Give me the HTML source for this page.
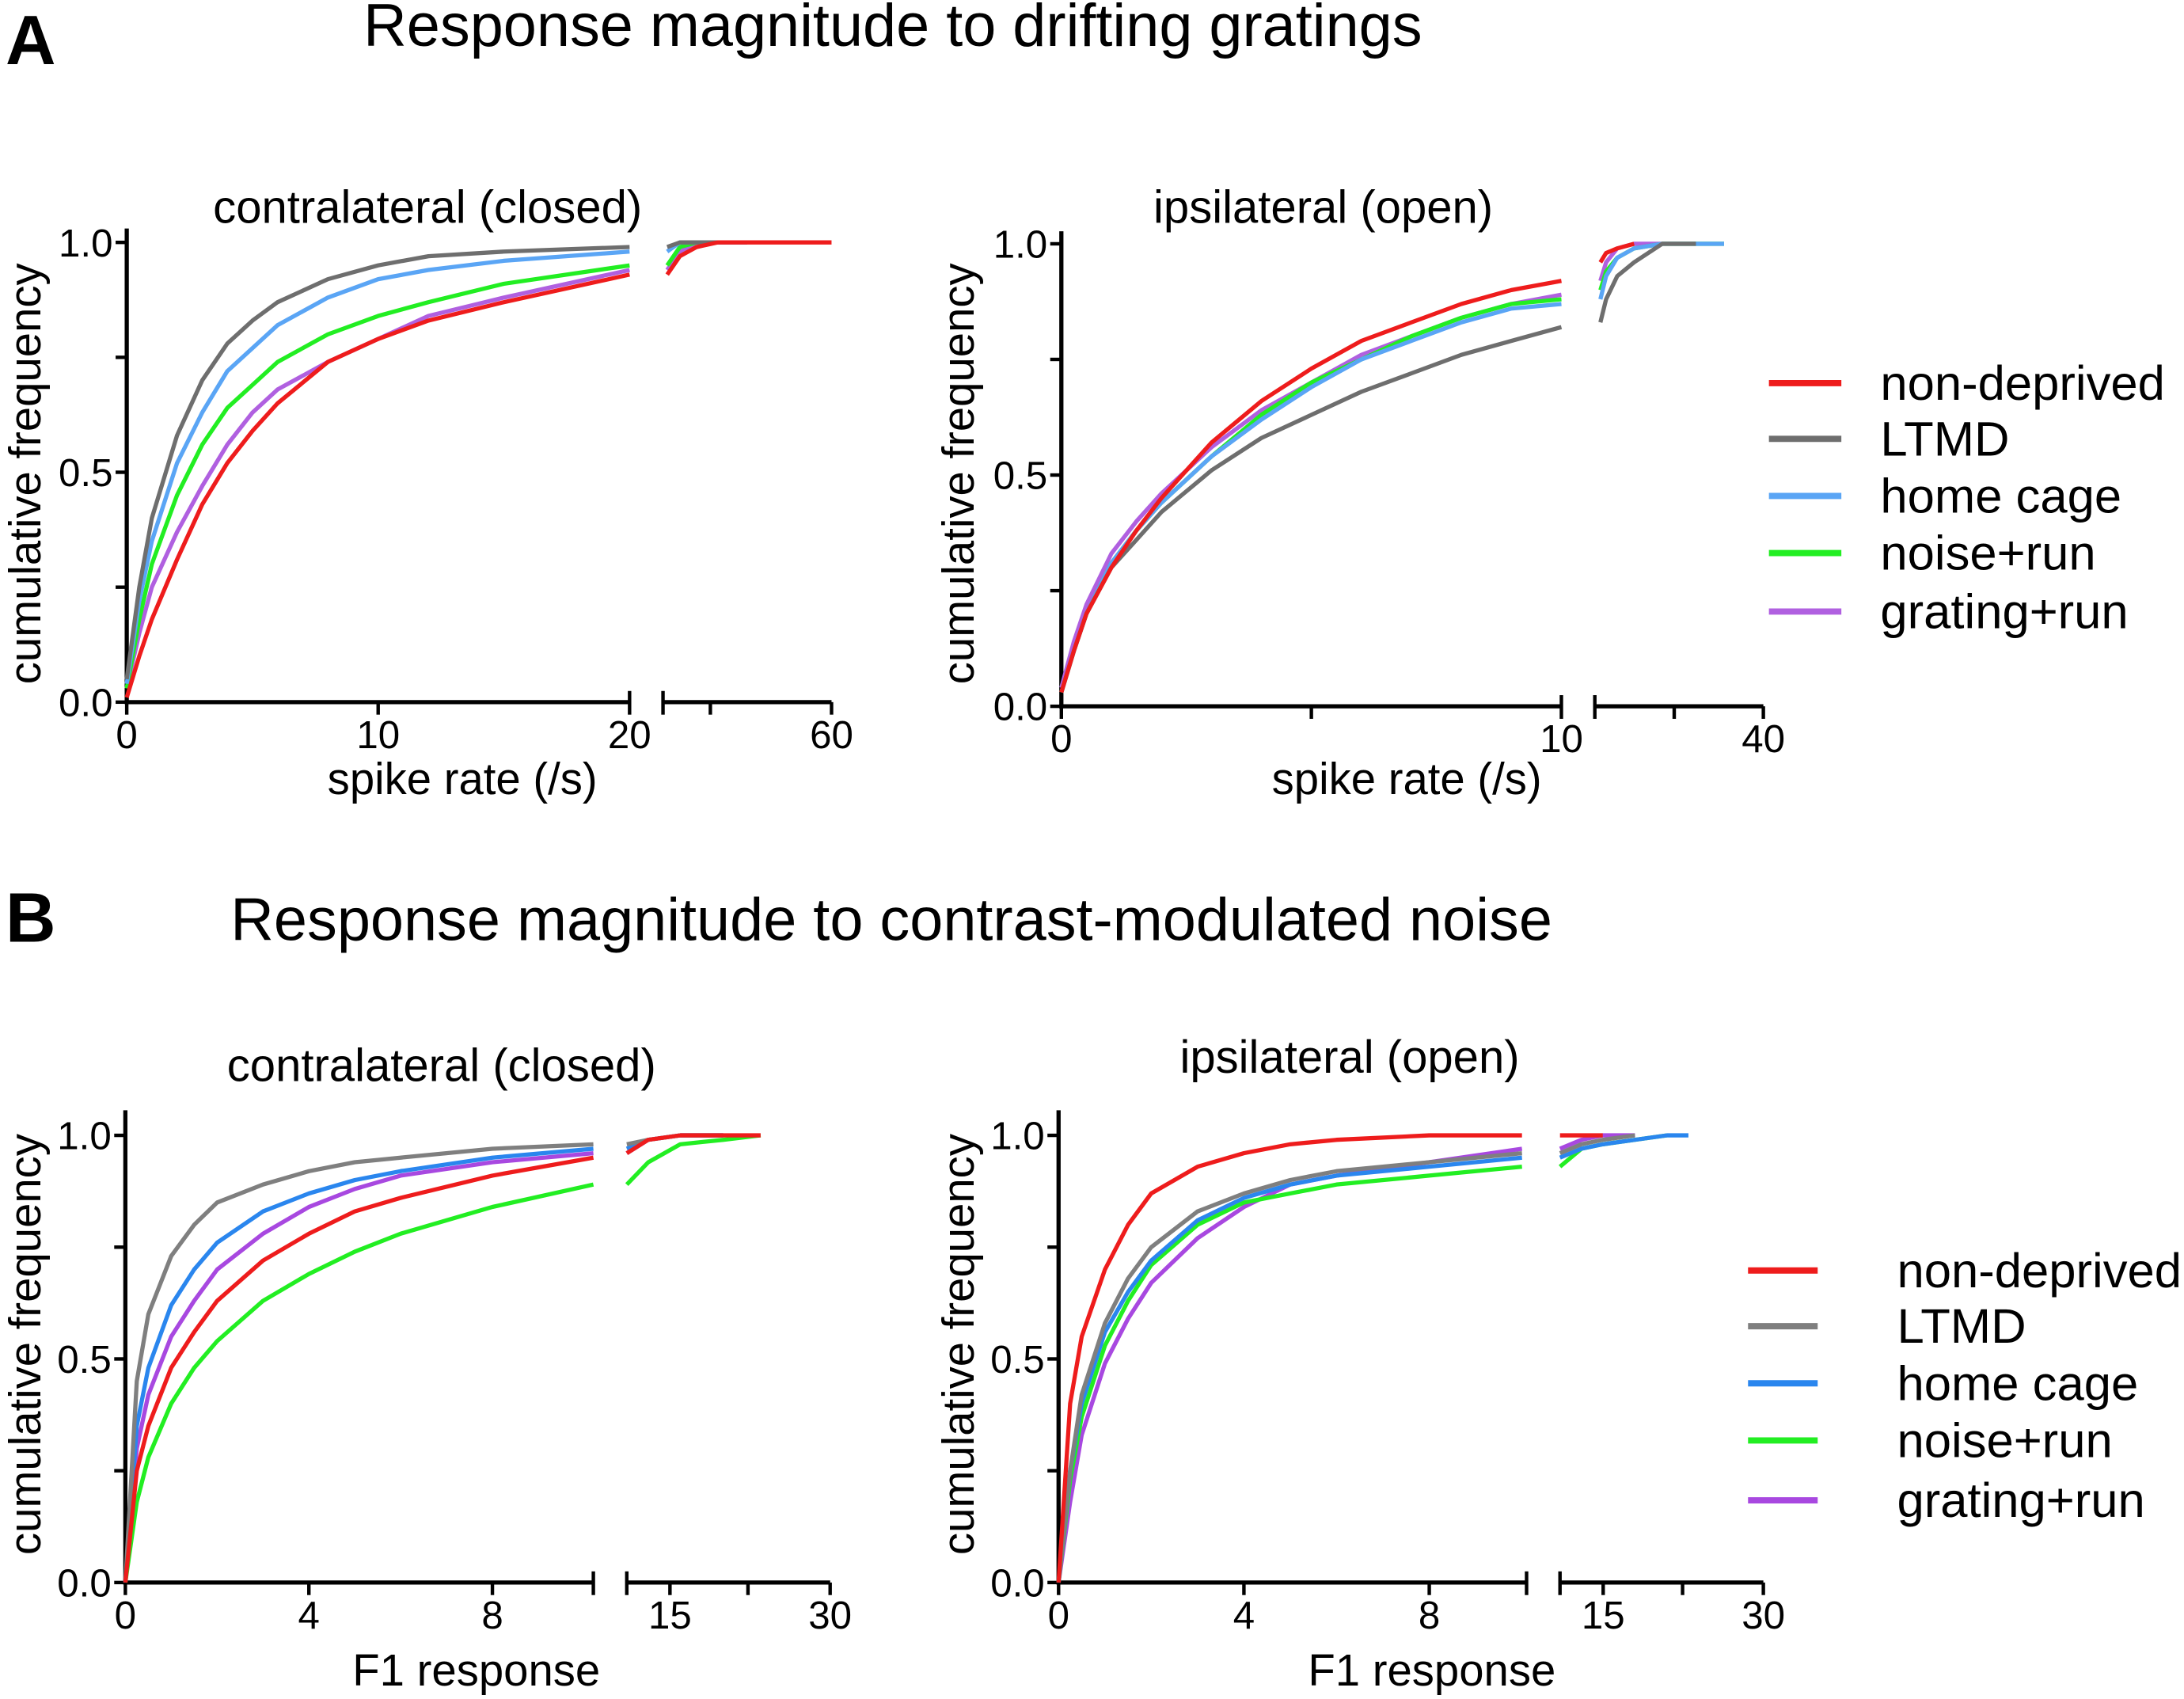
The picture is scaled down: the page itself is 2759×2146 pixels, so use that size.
<!DOCTYPE html>
<html><head><meta charset="utf-8"><style>
html,body{margin:0;padding:0;background:#fff;}
svg{display:block;font-family:"Liberation Sans",Arial,sans-serif;}
</style></head><body>
<svg id="fig" width="2759" height="2146" viewBox="0 0 1568 1219.6" xmlns="http://www.w3.org/2000/svg">
<text x="4" y="46" font-size="50" font-weight="bold">A</text>
<text x="641" y="33" font-size="43" text-anchor="middle">Response magnitude to drifting gratings</text>
<text x="4" y="676" font-size="50" font-weight="bold">B</text>
<text x="640" y="675" font-size="43" text-anchor="middle">Response magnitude to contrast-modulated noise</text>
</svg>
<script>
// ---- data ----
const seriesNames = ["non-deprived","LTMD","home cage","noise+run","grating+run"];
// Panel A left (spike rate, contralateral)
const aLX1 = [0,0.5,1,2,3,4,5,6,8,10,12,15,20];
const aLRed1 = [0.01,0.10,0.18,0.31,0.43,0.52,0.59,0.65,0.74,0.79,0.83,0.87,0.93];
const aLGray1 = [0.05,0.25,0.40,0.58,0.70,0.78,0.83,0.87,0.92,0.95,0.97,0.98,0.99];
const aLBlue1 = [0.04,0.22,0.35,0.52,0.63,0.72,0.77,0.82,0.88,0.92,0.94,0.96,0.98];
const aLGreen1 = [0.03,0.18,0.30,0.45,0.56,0.64,0.69,0.74,0.80,0.84,0.87,0.91,0.95];
const aLPurple1 = [0.03,0.15,0.25,0.37,0.47,0.56,0.63,0.68,0.74,0.79,0.84,0.88,0.94];
const aLX2 = [21,24,28,33,40,60];
const aLRed2 = [0.93,0.97,0.99,1,1,1];
const aLGray2 = [0.99,1,1,1,null,null];
const aLBlue2 = [0.98,1,1,1,1,null];
const aLGreen2 = [0.95,0.99,1,1,null,null];
const aLPurple2 = [0.94,0.98,1,1,1,null];
// Panel A right (spike rate, ipsilateral)
const aRX1 = [0,0.25,0.5,1,1.5,2,3,4,5,6,7,8,9,10];
const aRRed1 = [0.03,0.12,0.20,0.30,0.38,0.45,0.57,0.66,0.73,0.79,0.83,0.87,0.90,0.92];
const aRGray1 = [0.03,0.12,0.20,0.30,0.36,0.42,0.51,0.58,0.63,0.68,0.72,0.76,0.79,0.82];
const aRBlue1 = [0.03,0.12,0.20,0.31,0.38,0.44,0.54,0.62,0.69,0.75,0.79,0.83,0.86,0.87];
const aRGreen1 = [0.03,0.12,0.20,0.31,0.38,0.44,0.54,0.63,0.70,0.75,0.80,0.84,0.87,0.88];
const aRPurple1 = [0.04,0.14,0.22,0.33,0.40,0.46,0.56,0.64,0.70,0.76,0.80,0.84,0.87,0.89];
const aRX2 = [11,12,14,17,22,28,33];
const aRRed2 = [0.96,0.98,0.99,1,null,null,null];
const aRGray2 = [0.83,0.88,0.93,0.96,1,1,null];
const aRBlue2 = [0.88,0.93,0.97,0.99,1,1,1];
const aRGreen2 = [0.90,0.94,0.97,0.99,1,1,1];
const aRPurple2 = [0.92,0.96,0.99,1,1,null,null];
// Panel B left (F1, contralateral)
const bLX1 = [0,0.25,0.5,1,1.5,2,3,4,5,6,8,10.2];
const bLRed1 = [0,0.25,0.35,0.48,0.56,0.63,0.72,0.78,0.83,0.86,0.91,0.95];
const bLGray1 = [0,0.45,0.60,0.73,0.80,0.85,0.89,0.92,0.94,0.95,0.97,0.98];
const bLBlue1 = [0,0.35,0.48,0.62,0.70,0.76,0.83,0.87,0.90,0.92,0.95,0.97];
const bLGreen1 = [0,0.18,0.28,0.40,0.48,0.54,0.63,0.69,0.74,0.78,0.84,0.89];
const bLPurple1 = [0,0.30,0.42,0.55,0.63,0.70,0.78,0.84,0.88,0.91,0.94,0.96];
const bLX2 = [11,13,16,20,23.5];
const bLRed2 = [0.96,0.99,1,1,1];
const bLGray2 = [0.98,0.99,1,1,null];
const bLBlue2 = [0.97,0.99,1,1,null];
const bLGreen2 = [0.89,0.94,0.98,0.99,1];
const bLPurple2 = [0.96,0.99,1,1,null];
// Panel B right (F1, ipsilateral)
const bRX1 = [0,0.25,0.5,1,1.5,2,3,4,5,6,8,10];
const bRRed1 = [0,0.40,0.55,0.70,0.80,0.87,0.93,0.96,0.98,0.99,1,1];
const bRGray1 = [0,0.25,0.42,0.58,0.68,0.75,0.83,0.87,0.90,0.92,0.94,0.96];
const bRBlue1 = [0,0.25,0.40,0.56,0.65,0.72,0.81,0.86,0.89,0.91,0.93,0.95];
const bRGreen1 = [0,0.23,0.37,0.53,0.63,0.71,0.80,0.85,0.87,0.89,0.91,0.93];
const bRPurple1 = [0,0.18,0.33,0.49,0.59,0.67,0.77,0.84,0.89,0.91,0.94,0.97];
const bRX2 = [11,13,15,18,21,23];
const bRRed2 = [1,1,1,null,null,null];
const bRGray2 = [0.96,0.98,0.99,1,null,null];
const bRBlue2 = [0.95,0.97,0.98,0.99,1,1];
const bRGreen2 = [0.93,0.97,0.98,0.99,1,null];
const bRPurple2 = [0.97,0.99,1,1,null,null];

// ---- rendering ----
const NS="http://www.w3.org/2000/svg";
const svg=document.getElementById('fig');
function mk(tag,attrs,parent){const e=document.createElementNS(NS,tag);for(const k in attrs)e.setAttribute(k,attrs[k]);(parent||svg).appendChild(e);return e;}
const colorsA=["#ee1c1c","#6e6e6e","#5aa5f5","#22ee22","#b060e0"];
const colorsB=["#ee1c1c","#7f7f7f","#2a86ee","#22ee22","#a848e0"];

const panels=[
 {id:'a-left',title:'contralateral (closed)',tx:307,ty:160,xl:'spike rate (/s)',xlx:332,xly:570,
  x0:91,yTop:174,yBot:504,axTop:164,s1:[0,20],p1:[91,452],s2:[20,60],p2:[476,597],
  t1:[0,10,20],l1:['0','10','20'],t2:[20,30,60],t2px:[476,510,597],l2:['','','60'],
  x1:aLX1,y1:[aLRed1,aLGray1,aLBlue1,aLGreen1,aLPurple1],x2:aLX2,y2:[aLRed2,aLGray2,aLBlue2,aLGreen2,aLPurple2],colors:colorsA,ylx:18,yly:340},
 {id:'a-right',title:'ipsilateral (open)',tx:950,ty:160,xl:'spike rate (/s)',xlx:1010,xly:570,
  x0:762,yTop:175,yBot:507,axTop:166,s1:[0,10],p1:[762,1121],s2:[10,40],p2:[1145,1266],
  t1:[0,5,10],l1:['0','','10'],t2:[10,25,40],t2px:[1145,1202,1266],l2:['','','40'],
  x1:aRX1,y1:[aRRed1,aRGray1,aRBlue1,aRGreen1,aRPurple1],x2:aRX2,y2:[aRRed2,aRGray2,aRBlue2,aRGreen2,aRPurple2],colors:colorsA,ylx:688,yly:340},
 {id:'b-left',title:'contralateral (closed)',tx:317,ty:776,xl:'F1 response',xlx:342,xly:1210,
  x0:90,yTop:815,yBot:1136,axTop:797,s1:[0,10.2],p1:[90,426],s2:[11,30],p2:[450,596],
  t1:[0,4,8,10.2],l1:['0','4','8',''],t2:[11,15,22.5,30],t2px:[450,481,537,596],l2:['','15','','30'],
  x1:bLX1,y1:[bLRed1,bLGray1,bLBlue1,bLGreen1,bLPurple1],x2:bLX2,y2:[bLRed2,bLGray2,bLBlue2,bLGreen2,bLPurple2],colors:colorsB,ylx:18,yly:965},
 {id:'b-right',title:'ipsilateral (open)',tx:969,ty:770,xl:'F1 response',xlx:1028,xly:1210,
  x0:760,yTop:815,yBot:1136,axTop:797,s1:[0,10.1],p1:[760,1096],s2:[11,30],p2:[1120,1266],
  t1:[0,4,8,10.1],l1:['0','4','8',''],t2:[11,15,22.5,30],t2px:[1120,1151,1208,1266],l2:['','15','','30'],
  x1:bRX1,y1:[bRRed1,bRGray1,bRBlue1,bRGreen1,bRPurple1],x2:bRX2,y2:[bRRed2,bRGray2,bRBlue2,bRGreen2,bRPurple2],colors:colorsB,ylx:688,yly:965}
];

panels.forEach(P=>{
  const g=mk('g',{});
  
  
  const yS=v=>P.yBot-(P.yBot-P.yTop)*v;
  const xS1=v=>P.p1[0]+(v-P.s1[0])/(P.s1[1]-P.s1[0])*(P.p1[1]-P.p1[0]);
  const xS2=v=>P.p2[0]+(v-P.s2[0])/(P.s2[1]-P.s2[0])*(P.p2[1]-P.p2[0]);
  const t=mk('text',{x:P.tx,y:P.ty,'font-size':33,'text-anchor':'middle'},g);t.textContent=P.title;
  
  
  const xl=mk('text',{x:P.xlx,y:P.xly,'font-size':32,'text-anchor':'middle'},g);xl.textContent=P.xl;
  
  
  const yl=mk('text',{x:0,y:0,'font-size':32,'text-anchor':'middle',transform:`translate(${P.ylx+11},${P.yly}) rotate(-90)`},g);yl.textContent='cumulative frequency';
  
  
  const ya=mk('line',{x1:P.x0,y1:P.axTop,x2:P.x0,y2:P.yBot+1.5,stroke:'#000','stroke-width':3},g);
  
  
  [0,0.25,0.5,0.75,1].forEach(v=>{
    const tk=mk('line',{x1:P.x0-8,y1:yS(v),x2:P.x0,y2:yS(v),stroke:'#000','stroke-width':2.5},g);
    
    
    if(v%0.5===0){const tl=mk('text',{x:P.x0-10,y:yS(v)+10,'font-size':28,'text-anchor':'end'},g);tl.textContent=v.toFixed(1);
      
      }
  });
  const xa1=mk('line',{x1:P.p1[0]-1.5,y1:P.yBot,x2:P.p1[1],y2:P.yBot,stroke:'#000','stroke-width':3},g);
  
  
  const xa2=mk('line',{x1:P.p2[0],y1:P.yBot,x2:P.p2[1],y2:P.yBot,stroke:'#000','stroke-width':3},g);
  
  
  P.t1.forEach((v,i)=>{const x=xS1(v);
    const tk=mk('line',{x1:x,y1:P.yBot-(i===P.t1.length-1?8:0),x2:x,y2:P.yBot+9,stroke:'#000','stroke-width':2.5},g);
    
    
    if(P.l1[i]){const tl=mk('text',{x:x,y:P.yBot+33,'font-size':28,'text-anchor':'middle'},g);tl.textContent=P.l1[i];
      
      }
  });
  P.t2.forEach((v,i)=>{const x=P.t2px[i];
    const tk=mk('line',{x1:x,y1:P.yBot-(i===0?8:0),x2:x,y2:P.yBot+9,stroke:'#000','stroke-width':2.5},g);
    
    
    if(P.l2[i]){const tl=mk('text',{x:x,y:P.yBot+33,'font-size':28,'text-anchor':'middle'},g);tl.textContent=P.l2[i];
      
      }
  });
  [4,3,2,1,0].forEach(si=>{
    let d='';P.x1.forEach((x,i)=>{d+=(i?'L':'M')+xS1(x).toFixed(1)+' '+yS(P.y1[si][i]).toFixed(1);});
    const l1=mk('path',{d:d,fill:'none',stroke:P.colors[si],'stroke-width':3,'stroke-linejoin':'round'},g);
    
    
    let d2='';let first=true;P.x2.forEach((x,i)=>{const v=P.y2[si][i];if(v===null)return;d2+=(first?'M':'L')+xS2(x).toFixed(1)+' '+yS(v).toFixed(1);first=false;});
    const l2=mk('path',{d:d2,fill:'none',stroke:P.colors[si],'stroke-width':3,'stroke-linejoin':'round'},g);
    
    
  });
});

const legends=[{lx:1270,lx2:1322,tx:1350,ys:[275,315,356,397,439],colors:colorsA,id:'a'},
               {lx:1255,lx2:1305,tx:1362,ys:[912,952,993,1034,1077],colors:colorsB,id:'b'}];
legends.forEach(L=>{
  const g=mk('g',{});
  
  
  seriesNames.forEach((n,i)=>{
    const ln=mk('line',{x1:L.lx,y1:L.ys[i],x2:L.lx2,y2:L.ys[i],stroke:L.colors[i],'stroke-width':4.5},g);
    
    
    const t=mk('text',{x:L.tx,y:L.ys[i]+12,'font-size':35},g);t.textContent=n;
    
    
  });
});
</script>
</body></html>
